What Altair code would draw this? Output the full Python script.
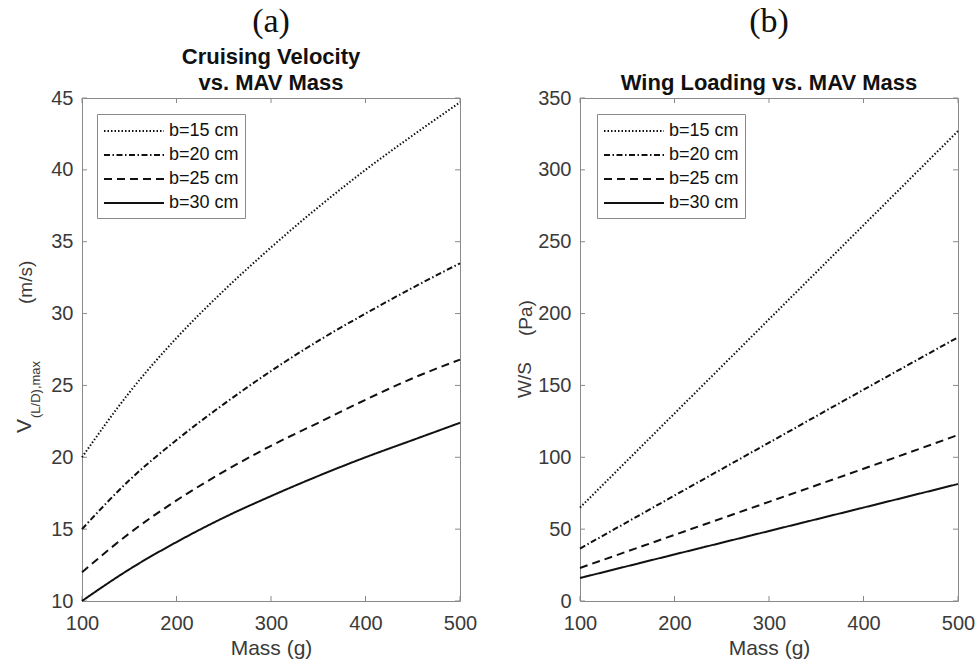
import altair as alt
import pandas as pd

# ---------------- data ----------------
series = ["b=15 cm", "b=20 cm", "b=25 cm", "b=30 cm"]
dash_patterns = [[1.5, 2.0], [6, 2.5, 1.5, 2.5], [8, 5], [1, 0]]

mass_a = [100, 150, 200, 250, 300, 350, 400, 450, 500]
vel_15 = [20.0, 24.5, 28.3, 31.6, 34.6, 37.4, 40.0, 42.4, 44.7]
vel_20 = [15.0, 18.4, 21.2, 23.7, 26.0, 28.1, 30.0, 31.8, 33.5]
vel_25 = [12.0, 14.7, 17.0, 19.0, 20.8, 22.4, 24.0, 25.5, 26.8]
vel_30 = [10.0, 12.2, 14.1, 15.8, 17.3, 18.7, 20.0, 21.2, 22.4]

mass_b = [100, 200, 300, 400, 500]
ws_15 = [65.0, 130.5, 196.0, 261.5, 327.0]
ws_20 = [36.5, 73.4, 110.2, 147.0, 183.5]
ws_25 = [23.0, 46.0, 69.0, 92.0, 115.5]
ws_30 = [16.0, 32.4, 48.7, 65.0, 81.4]

x_ticks = [100, 200, 300, 400, 500]
y_ticks_a = [10, 15, 20, 25, 30, 35, 40, 45]
y_ticks_b = [0, 50, 100, 150, 200, 250, 300, 350]


def long_df(masses, groups):
    rows = []
    for s, vals in zip(series, groups):
        for m, v in zip(masses, vals):
            rows.append({"mass": m, "value": v, "series": s})
    return pd.DataFrame(rows)


df_a = long_df(mass_a, [vel_15, vel_20, vel_25, vel_30])
df_b = long_df(mass_b, [ws_15, ws_20, ws_25, ws_30])

# ---------------- style ----------------
W, H = 378, 503
BOX = "#8a8a8a"
LBL = "#3a3a3a"
SANS = "Liberation Sans"
SERIF = "Liberation Serif"
TICK = 5


def text_layer(txt, x, y, size, angle=0, align="left", font=SANS, weight="normal", color=LBL):
    return alt.Chart(alt.Data(values=[{}])).mark_text(
        text=txt, font=font, fontSize=size, fontWeight=weight, color=color, angle=angle,
        align=align, baseline="alphabetic"
    ).encode(x=alt.value(x), y=alt.value(y))


def panel(df, ydom, yticks, legend_x, extra):
    x_axis = alt.Axis(values=x_ticks, title="Mass (g)", domain=False, ticks=False, tickSize=0,
                      grid=False, labelFont=SANS, labelFontSize=20, labelColor=LBL,
                      labelFlush=False, labelOverlap=False, labelPadding=12,
                      titleFont=SANS, titleFontSize=21, titleFontWeight="normal",
                      titleColor=LBL, titlePadding=4)
    y_axis = alt.Axis(values=yticks, title=None, domain=False, ticks=False, tickSize=0,
                      grid=False, labelFont=SANS, labelFontSize=20, labelColor=LBL,
                      labelFlush=False, labelOverlap=False, labelPadding=9)
    xs = alt.Scale(domain=[100, 500], nice=False, zero=False)
    ys = alt.Scale(domain=ydom, nice=False, zero=False)
    x_enc = alt.X("mass:Q", scale=xs, axis=x_axis)
    y_enc = alt.Y("value:Q", scale=ys, axis=y_axis)

    lines = alt.Chart(df).mark_line(color="#111111", strokeWidth=2, interpolate="monotone",
                                    strokeCap="butt").encode(
        x=x_enc, y=y_enc,
        strokeDash=alt.StrokeDash(
            "series:N",
            scale=alt.Scale(domain=series, range=dash_patterns),
            legend=alt.Legend(orient="none", legendX=legend_x, legendY=16, direction="vertical",
                              title=None, symbolType="M-1,0H5", symbolSize=400,
                              symbolStrokeWidth=2, symbolStrokeColor="#111111",
                              symbolFillColor="transparent",
                              labelFont=SANS, labelFontSize=18, labelColor="#111111",
                              labelOffset=44, padding=6, rowPadding=4, strokeColor=BOX,
                              fillColor="white", labelLimit=300)),
    )

    xt = pd.DataFrame({"mass": x_ticks})
    yt = pd.DataFrame({"value": yticks})
    tb = alt.Chart(xt).mark_rule(color=BOX, strokeWidth=1).encode(
        x=x_enc, y=alt.value(H), y2=alt.value(H - TICK))
    tt = alt.Chart(xt).mark_rule(color=BOX, strokeWidth=1).encode(
        x=x_enc, y=alt.value(0), y2=alt.value(TICK))
    tl = alt.Chart(yt).mark_rule(color=BOX, strokeWidth=1).encode(
        y=y_enc, x=alt.value(0), x2=alt.value(TICK))
    tr = alt.Chart(yt).mark_rule(color=BOX, strokeWidth=1).encode(
        y=y_enc, x=alt.value(W - TICK), x2=alt.value(W))

    layers = [tb, tt, tl, tr, lines] + extra
    return alt.layer(*layers).properties(width=W, height=H)


marker = alt.Chart(alt.Data(values=[{}])).mark_rule(strokeWidth=0, opacity=0).encode(
    x=alt.value(-81), x2=alt.value(-81), y=alt.value(-97), y2=alt.value(-97))

extra_a = [
    text_layer("(a)", W / 2, -66, 34, align="center", font=SERIF, color="#111111"),
    text_layer("Cruising Velocity", W / 2, -34, 22, align="center", weight="bold", color="#111111"),
    text_layer("vs. MAV Mass", W / 2, -8, 22, align="center", weight="bold", color="#111111"),
    text_layer("V", -51, 335, 21, angle=270),
    text_layer("(L/D),max", -42, 320, 13, angle=270),
    text_layer("(m/s)", -50, 206, 19, angle=270),
    marker,
]
extra_b = [
    text_layer("(b)", W / 2, -66, 34, align="center", font=SERIF, color="#111111"),
    text_layer("Wing Loading vs. MAV Mass", W / 2, -8, 22, align="center", weight="bold",
               color="#111111"),
    text_layer("W/S", -49, 300, 19, angle=270),
    text_layer("(Pa)", -48, 238, 19, angle=270),
]

pa = panel(df_a, [10, 45], y_ticks_a, 15, extra_a)
pb = panel(df_b, [0, 350], y_ticks_b, 17, extra_b)

chart = alt.hconcat(pa, pb, spacing=120, bounds="flush").resolve_scale(
    strokeDash="independent", x="independent", y="independent"
).resolve_legend(strokeDash="independent").configure_view(
    stroke=BOX, strokeWidth=1
).properties(padding=0, background="white")

chart.save("out.html", embed_options={"renderer": "svg", "actions": False})
